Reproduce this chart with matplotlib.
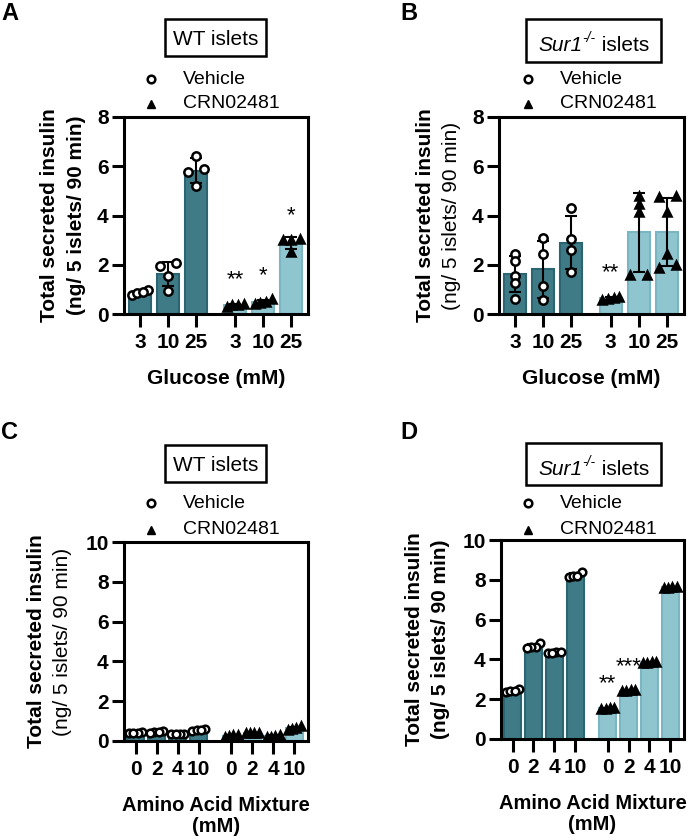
import numpy as np
import matplotlib

matplotlib.use("Agg")
import matplotlib.pyplot as plt
from matplotlib.lines import Line2D
from matplotlib.patches import Rectangle

plt.rcParams["font.family"] = ["Liberation Sans", "DejaVu Sans"]

VEH_FACE, VEH_EDGE = "#3f7b86", "#2a6571"
CRN_FACE, CRN_EDGE = "#8fc5cf", "#79b6c1"

glucose_labels = ["3", "10", "25"]
aa_labels = ["0", "2", "4", "10"]

# A: WT islets, glucose
a_vehicle = [[0.77, 0.97, 0.84, 0.88], [1.95, 2.06, 1.56, 0.95], [6.43, 5.87, 5.78, 5.20]]
a_crn = [[0.30, 0.42, 0.38, 0.38], [0.40, 0.60, 0.45, 0.50], [3.00, 3.05, 3.00, 2.50]]
a_stars = ["**", "*", "*"]

# B: Sur1-/- islets, glucose
b_vehicle = [[2.44, 2.17, 1.56, 1.25, 0.61], [3.08, 2.44, 1.15, 0.57], [4.29, 3.03, 2.60, 1.69]]
b_crn = [[0.58, 0.70, 0.62, 0.65], [4.79, 4.45, 4.15, 1.58, 1.58],
         [4.74, 4.80, 4.15, 2.44, 1.88, 1.99]]
b_stars = ["**", "", ""]

# C: WT islets, amino acids
c_vehicle = [[0.40, 0.45, 0.42, 0.40], [0.45, 0.50, 0.45, 0.42], [0.35, 0.37, 0.36, 0.35],
             [0.50, 0.62, 0.55, 0.55]]
c_crn = [[0.22, 0.30, 0.28, 0.25], [0.38, 0.42, 0.40, 0.40], [0.22, 0.30, 0.25, 0.22],
         [0.55, 0.75, 0.65, 0.60]]
c_stars = ["", "", "", ""]

# D: Sur1-/- islets, amino acids
d_vehicle = [[2.35, 2.50, 2.40, 2.40], [4.80, 4.64, 4.60, 4.56], [4.30, 4.35, 4.30, 4.35],
             [8.40, 8.16, 8.20, 8.20]]
d_crn = [[1.50, 1.58, 1.55, 1.52], [2.40, 2.46, 2.45, 2.42], [3.80, 3.86, 3.85, 3.82],
         [7.60, 7.64, 7.62, 7.60]]
d_stars = ["**", "***", "", ""]


def swarm_offsets(vals, thr, w=0.3):
    vals = np.asarray(vals)
    order = np.argsort(vals)
    offs = np.zeros(len(vals))
    clusters, cur = [], [order[0]]
    for i in order[1:]:
        if vals[i] - vals[cur[-1]] < thr:
            cur.append(i)
        else:
            clusters.append(cur)
            cur = [i]
    clusters.append(cur)
    for cl in clusters:
        if len(cl) > 1:
            offs[cl] = np.linspace(-w, w, len(cl))
    return offs


def draw_panel(ax, vehicle, crn, stars, labels, gap, width, ymax, thr, msize):
    n = len(labels)
    xv = np.arange(n, dtype=float)
    xc = xv + n + gap - 1
    for xs, groups, face, edge, marker, mfc in [
        (xv, vehicle, VEH_FACE, VEH_EDGE, "o", "white"),
        (xc, crn, CRN_FACE, CRN_EDGE, "^", "black"),
    ]:
        means = [np.mean(g) for g in groups]
        sds = [np.std(g, ddof=1) for g in groups]
        ax.bar(xs, means, width=width, color=face, edgecolor=edge, linewidth=1.5, zorder=1)
        ax.errorbar(xs, means, yerr=sds, fmt="none", ecolor="black", elinewidth=1.5,
                    capsize=4, capthick=1.5, zorder=2)
        for x, g in zip(xs, groups):
            offs = swarm_offsets(g, thr)
            ax.plot(x + offs, g, linestyle="none", marker=marker, ms=msize, mfc=mfc,
                    mec="black", mew=1.8, zorder=3, clip_on=False)
    for x, g, s in zip(xc, crn, stars):
        if s:
            ax.annotate(s, (x, max(g)), xytext=(0, 17), textcoords="offset points",
                        ha="center", va="center", fontsize=16, zorder=4)
    ax.set_xlim(-0.57 if n == 3 else -0.55, 6.0 if n == 3 else 8.2)
    ax.set_ylim(0, ymax)
    ax.set_yticks(np.arange(0, ymax + 1, 2), labels=[str(v) for v in range(0, ymax + 1, 2)],
                  fontweight="bold", fontsize=15)
    ax.set_xticks(np.concatenate([xv, xc]), labels=labels + labels, fontweight="bold", fontsize=15)
    ax.tick_params(axis="y", direction="out", length=9, width=2.2, pad=2)
    ax.tick_params(axis="x", direction="out", length=9, width=2.2, pad=5)
    for sp in ax.spines.values():
        sp.set_linewidth(2.2)


fig = plt.figure(figsize=(6.88, 8.40), dpi=100)
W, H = 688.0, 840.0
renderer = fig.canvas.get_renderer()


def px_axes(left, top, right, bottom):
    return fig.add_axes([left / W, 1 - bottom / H, (right - left) / W, (bottom - top) / H])


def rich_text(cx, base, parts):
    # parts: (text, style, size, rise in px); laid out left to right, centred on cx
    objs = [fig.text(0, 0, s, fontsize=size, style=style, ha="left", va="baseline")
            for s, style, size, _ in parts]
    widths = [t.get_window_extent(renderer).width for t in objs]
    x = cx - sum(widths) / 2
    for t, (_, _, _, rise), w in zip(objs, parts, widths):
        t.set_position((x / W, 1 - (base - rise) / H))
        x += w


def header(letter, lx, ly, title_parts, box, base, mx, my1, my2):
    fig.text(lx / W, 1 - ly / H, letter, fontsize=17, fontweight="bold", ha="center", va="center")
    x0, y0, x1, y1 = box
    fig.add_artist(Rectangle((x0 / W, 1 - y1 / H), (x1 - x0) / W, (y1 - y0) / H,
                             transform=fig.transFigure, fill=False, ec="black", lw=1.8))
    rich_text((x0 + x1) / 2, base, title_parts)
    fig.add_artist(Line2D([mx / W], [1 - my1 / H], marker="o", ms=5.5, mfc="white", mec="black",
                          mew=1.8, transform=fig.transFigure))
    fig.add_artist(Line2D([mx / W], [1 - my2 / H], marker="^", ms=6, mfc="black", mec="black",
                          transform=fig.transFigure))
    fig.text((mx + 32) / W, 1 - my1 / H, "Vehicle", fontsize=14, ha="left", va="center")
    fig.text((mx + 32) / W, 1 - my2 / H, "CRN02481", fontsize=14, ha="left", va="center")


def ylabels(ax, x1, x2, bold2):
    ax.text(x1, 0.5, "Total secreted insulin", transform=ax.transAxes, rotation=90,
            ha="center", va="center", fontsize=15, fontweight="bold")
    ax.text(x2, 0.5, "(ng/ 5 islets/ 90 min)", transform=ax.transAxes, rotation=90,
            ha="center", va="center", fontsize=15, fontweight="bold" if bold2 else "normal")


wt_title = [("WT islets", "normal", 15, 0)]
sur1_title = [("Sur1", "italic", 15, 0), ("-/-", "italic", 10, 9), (" islets", "normal", 15, 0)]

# A
axA = px_axes(124, 117, 308, 314)
draw_panel(axA, a_vehicle, a_crn, a_stars, glucose_labels, 1.4, 0.78, 8, 0.25, 6)
header("A", 10, 13, wt_title, (165, 19, 266, 56), 45, 151, 79, 104)
ylabels(axA, -74 / 184, -47 / 184, True)
axA.set_xlabel("Glucose (mM)", fontsize=15, fontweight="bold", labelpad=12)

# B
axB = px_axes(499, 117, 684, 314)
draw_panel(axB, b_vehicle, b_crn, b_stars, glucose_labels, 1.4, 0.78, 8, 0.25, 6)
header("B", 409, 13, sur1_title, (526, 19, 661, 62), 51, 528, 79, 104)
ylabels(axB, -73 / 185, -47 / 185, False)
axB.set_xlabel("Glucose (mM)", fontsize=15, fontweight="bold", labelpad=12)

# C
axC = px_axes(124, 542, 308, 741)
draw_panel(axC, c_vehicle, c_crn, c_stars, aa_labels, 1.55, 0.8, 10, 0.3, 5.5)
header("C", 10, 433, wt_title, (165, 445, 266, 482), 471, 151, 503, 530)
ylabels(axC, -87 / 184, -61 / 184, False)
axC.set_xlabel("Amino Acid Mixture\n(mM)", fontsize=14.5, fontweight="bold", labelpad=12,
               linespacing=1.1)

# D
axD = px_axes(501, 540, 684, 739)
draw_panel(axD, d_vehicle, d_crn, d_stars, aa_labels, 1.55, 0.8, 10, 0.3, 5.5)
header("D", 409, 433, sur1_title, (526, 443, 661, 485), 475, 528, 503, 530)
ylabels(axD, -87 / 183, -60 / 183, True)
axD.set_xlabel("Amino Acid Mixture\n(mM)", fontsize=14.5, fontweight="bold", labelpad=12,
               linespacing=1.1)

fig.savefig("out.png", dpi=100)
